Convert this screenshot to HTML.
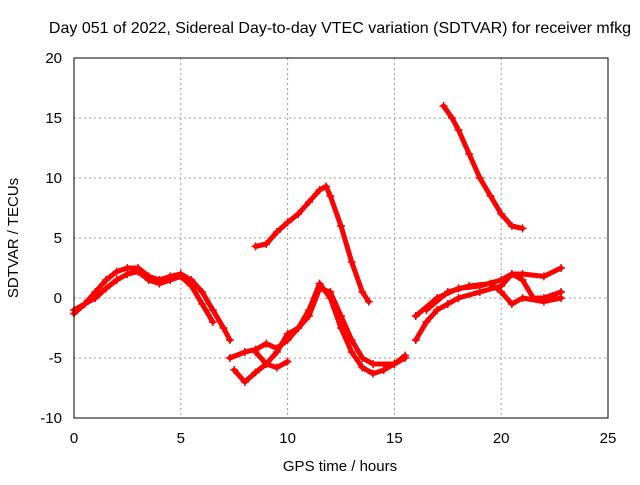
<!DOCTYPE html>
<html><head><meta charset="utf-8"><style>
body{margin:0;background:#fff}
svg text{font-family:"Liberation Sans",sans-serif;font-size:15px;fill:#000}
</style></head><body>
<svg id="chart" width="640" height="480">
<text x="340" y="33" text-anchor="middle" style="font-size:16px">Day 051 of 2022, Sidereal Day-to-day VTEC variation (SDTVAR) for receiver mfkg</text>
<g id="grid"></g><g id="ticks"></g><g id="series"></g>
<rect x="74" y="58" width="534" height="360" fill="none" stroke="#000" stroke-width="1"/>
<text x="340" y="471" text-anchor="middle">GPS time / hours</text>
<text x="18" y="238" text-anchor="middle" transform="rotate(-90 18 238)">SDTVAR / TECUs</text>
</svg>
<script>
const xTicks=[0,5,10,15,20,25];
const yTicks=[-10,-5,0,5,10,15,20];
const trackA=[[0,-1],[0.5,-0.5],[1,0.5],[1.5,1.5],[2,2.2],[2.5,2.5],[3,2.5],[3.5,1.8],[4,1.5],[4.5,1.8],[5,2],[5.5,1.5],[6,0.5],[6.5,-1],[7,-2.5],[7.3,-3.5]];
const trackB=[[0,-1.3],[0.5,-0.5],[1,0],[1.5,0.8],[2,1.5],[2.5,2],[3,2.2],[3.5,1.5],[4,1.2],[4.5,1.5],[5,1.8],[5.5,1],[6,-0.5],[6.5,-2]];
const trackC=[[7.3,-5],[8,-4.5],[8.5,-4.3],[9,-3.8],[9.5,-4.2],[10,-3.5],[10.5,-2.5],[11,-1.5],[11.5,0.8],[12,0.5],[12.5,-1.5],[13,-3.5],[13.5,-5],[14,-5.5],[15,-5.5],[15.5,-5]];
const trackD=[[7.5,-6],[8,-7],[8.5,-6.2],[9,-5.5],[9.5,-4.5],[10,-3],[10.5,-2.5],[11,-1],[11.5,1.2],[12,0],[12.5,-2.5],[13,-4.5],[13.5,-5.8],[14,-6.3],[14.5,-6],[15,-5.5],[15.5,-4.8]];
const trackE=[[8.5,-4.5],[9,-5.5],[9.5,-5.8],[10,-5.3]];
const trackF=[[8.5,4.3],[9,4.5],[9.5,5.5],[10,6.3],[10.5,7],[11,8],[11.5,9],[11.8,9.3],[12,8.5],[12.5,6],[13,3],[13.5,0.5],[13.8,-0.3]];
const trackG=[[17.3,16],[17.7,15],[18,14],[18.5,12],[19,10],[19.5,8.5],[20,7],[20.5,6],[21,5.8]];
const trackH=[[16,-3.5],[16.5,-2],[17,-1],[17.5,-0.5],[18,0],[19,0.5],[20,1],[20.5,2],[21,1.5],[21.5,0],[22,0],[22.8,0.5]];
const trackI=[[16,-1.5],[17,0],[18,0.8],[19,1],[20,1.5],[20.5,2],[21,2],[22,1.8],[22.8,2.5]];
const trackJ=[[16.5,-1],[17.5,0.5],[18.5,1],[19.5,1.2],[20,0.5],[20.5,-0.5],[21,0],[22,-0.3],[22.8,0]];
const tracks=[trackA,trackB,trackC,trackD,trackE,trackF,trackG,trackH,trackI,trackJ];
const X=v=>74+v*534/25, Y=v=>418-(v+10)*12;
const NS="http://www.w3.org/2000/svg";
function mk(t,a,p){const e=document.createElementNS(NS,t);for(const k in a)e.setAttribute(k,a[k]);p.appendChild(e);return e;}
const grid=document.getElementById('grid'),ticks=document.getElementById('ticks'),ser=document.getElementById('series');
xTicks.forEach(t=>{
 if(t>0&&t<25){const g=mk('line',{x1:X(t),x2:X(t),y1:58,y2:418,stroke:'#999','stroke-dasharray':'2,3','stroke-width':1},grid);
 
 }
 const tx=mk('text',{x:X(t),y:443,'text-anchor':'middle'},ticks);tx.textContent=t;
 
 
});
yTicks.forEach(t=>{
 if(t>-10&&t<20){const g=mk('line',{x1:74,x2:608,y1:Y(t),y2:Y(t),stroke:'#999','stroke-dasharray':'2,3','stroke-width':1},grid);
 
 }
 const tx=mk('text',{x:62,y:Y(t)+5,'text-anchor':'end'},ticks);tx.textContent=t;
 
 
});
tracks.forEach(tr=>{
 const pl=mk('polyline',{points:tr.map(p=>X(p[0])+','+Y(p[1])).join(' '),fill:'none',stroke:'#f00','stroke-width':5,'stroke-linejoin':'round','stroke-linecap':'round'},ser);
 
 
 tr.forEach(p=>{const x=X(p[0]),y=Y(p[1]);
  const m=mk('path',{d:`M${x-4},${y}h8M${x},${y-4}v8`,stroke:'#f00','stroke-width':1.5},ser);
  
  });
});
</script>
</body></html>
